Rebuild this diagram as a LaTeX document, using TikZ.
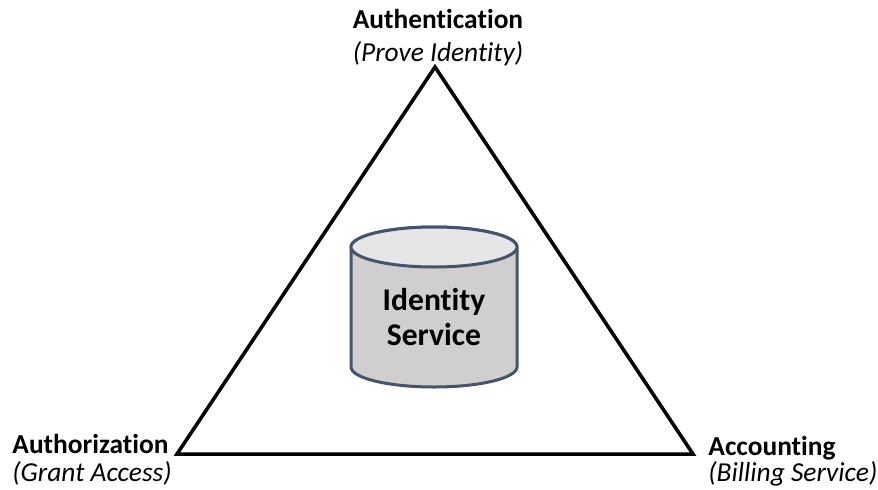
\documentclass[tikz,border=0pt]{standalone}
\usepackage{fontspec}
\setmainfont{Carlito}[Ligatures=NoCommon]
\definecolor{cylline}{HTML}{44546A}
\definecolor{cylbody}{HTML}{D0CECE}
\definecolor{cyltop}{HTML}{E7E6E6}
\begin{document}
\begin{tikzpicture}[x=0.5pt, y=0.5pt,
	cornerlabel/.style={font=\fontsize{13.7}{15}\selectfont\bfseries, inner sep=0pt, anchor=base},
	cornersub/.style={font=\fontsize{13.7}{15}\selectfont\itshape, inner sep=0pt, anchor=base}]
	\useasboundingbox (0,0) rectangle (878,489);
	\coordinate (apex) at (435,422);
	\coordinate (lcorner) at (177,35);
	\coordinate (rcorner) at (693,35);
	\draw[line width=1.75pt] (lcorner) -- (apex) -- (rcorner) -- cycle;
	\filldraw[fill=cylbody, draw=cylline, line width=1.5pt] (351,242) -- (351,122) arc (180:360:41.5pt and 10pt) -- (517,242) arc (0:180:41.5pt and 10pt) -- cycle;
	\filldraw[fill=cyltop, draw=cylline, line width=1.5pt] (434,242) ellipse (41.5pt and 10pt);
	\node[font=\fontsize{15.8}{17.5}\selectfont\bfseries, align=center] (idsvc) at (434,172) {Identity\\Service};
	\node[cornerlabel] (authn) at (438,461) {Authentication};
	\node[cornersub] (authnsub) at (438,428) {(Prove Identity)};
	\node[cornerlabel, anchor=base west] (authz) at (12,36) {Authorization};
	\node[cornersub, anchor=base west] (authzsub) at (12,8) {(Grant Access)};
	\node[cornerlabel, anchor=base west] (acct) at (708,34) {Accounting};
	\node[cornersub, anchor=base west] (acctsub) at (708,8) {(Billing Service)};
\end{tikzpicture}
\end{document}
